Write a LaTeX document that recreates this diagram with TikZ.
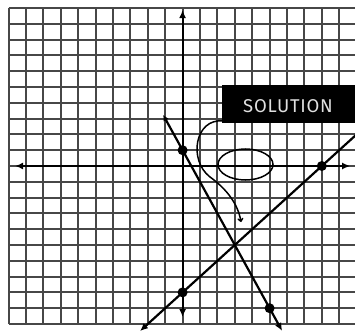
\documentclass[tikz,border=0pt]{standalone}
\usepackage{fontspec}
\newfontfamily\labelfont[LetterSpace=4]{Fira Sans}
\usetikzlibrary{arrows.meta}
\tikzset{
  gridline/.style={draw=black!72, line width=2pt},
  axisline/.style={draw=black, line width=2.2pt, {Latex[length=8pt,width=7pt]}-{Latex[length=8pt,width=7pt]}},
  graphline/.style={draw=black, line width=2.2pt},
  dot/.style={circle, fill=black, inner sep=0pt, minimum size=10pt},
  solbox/.style={fill=black, inner sep=0pt, minimum width=135pt, minimum height=38pt},
  callout/.style={draw=black, line width=1.5pt}
}
\begin{document}
\begin{tikzpicture}[x=1pt,y=-1pt]
\fill[white] (0,0) rectangle (355,331);
\useasboundingbox (0,0) rectangle (355,331);
\begin{scope}[shift={(182.6,166)}, x=17.4pt, y=15.8pt]
  \foreach \i in {-10,...,10} \draw[gridline] (\i,-10) -- (\i,10);
  \foreach \j in {-10,...,10} \draw[gridline] (-10,\j) -- (10,\j);
  \coordinate (xl) at (-9.63,0);
  \coordinate (xr) at (9.63,0);
  \coordinate (yt) at (0,9.87);
  \coordinate (yb) at (0,-9.56);
  \draw[axisline] (xl) -- (xr);
  \draw[axisline] (yt) -- (yb);
  \coordinate (l1a) at (-1.12,3.24);
  \coordinate (l1b) at (5.72,-10.44);
  \draw[graphline, {Latex[length=6pt,width=6pt]}-{Latex[length=8pt,width=7pt]}] (l1a) -- (l1b);
  \coordinate (l2a) at (-2.45,-10.45);
  \coordinate (l2b) at (10.2,2.2);
  \draw[graphline, {Latex[length=8pt,width=7pt]}-] (l2a) -- (l2b);
  \node[dot] (d1) at (0,1) {};
  \node[dot] (d2) at (5,-9) {};
  \node[dot] (d3) at (0,-8) {};
  \node[dot] (d4) at (8,0) {};
\end{scope}
\node[solbox, anchor=north west] (sol) at (222,85) {};
\node[text=black!12, font=\labelfont\fontsize{18.5pt}{18.5pt}\selectfont] (soltext) at (288,106.5) {SOLUTION};
\coordinate (cs) at (223,121);
\coordinate (ce) at (241,222);
\draw[callout] (245.5,164.5) ellipse [x radius=27.5, y radius=15.5];
\draw[callout, -{To[length=4pt,width=6pt]}] (cs) .. controls (195,118) and (188,160) .. (210,177)
   .. controls (228,190) and (238,205) .. (ce);
\end{tikzpicture}
\end{document}
